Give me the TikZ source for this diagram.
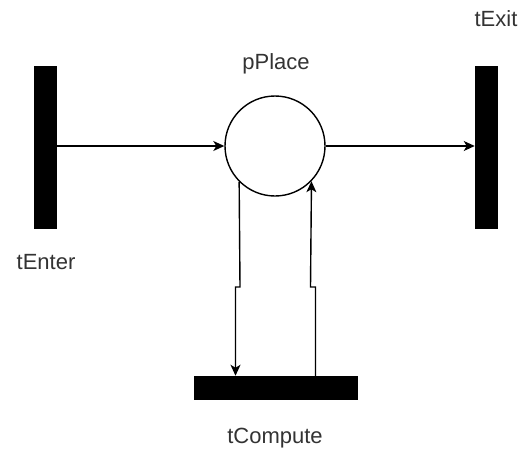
\documentclass[tikz,border=0pt]{standalone}
\usepackage{fontspec}
\setmainfont{Liberation Sans}
\usetikzlibrary{arrows.meta}
\begin{document}
\begin{tikzpicture}[x=1pt,y=-1pt,
  bar/.style={draw=black,fill=black,inner sep=0pt,line width=0.5pt},
  place/.style={circle,draw=black,fill=white,line width=1.4pt,inner sep=0pt,minimum size=100pt},
  lbl/.style={text=black!80,font=\fontsize{22}{24}\selectfont,inner sep=0pt},
  arc/.style={line width=1.4pt,-{Stealth[length=11pt,width=10pt,inset=3pt]}}]
\useasboundingbox (0,0) rectangle (521,453);
\node[bar,minimum width=22pt,minimum height=162pt] (tEnter) at (45,147) {};
\node[bar,minimum width=22pt,minimum height=162pt] (tExit) at (486,147) {};
\node[bar,minimum width=163pt,minimum height=23pt] (tCompute) at (275.5,387.5) {};
\node[place] (pPlace) at (275,146) {};
\node[lbl] (lEnter) at (46,262) {tEnter};
\node[lbl] (lExit) at (496,19) {tExit};
\node[lbl] (lPlace) at (276,64) {pPlace};
\node[lbl] (lCompute) at (275,438) {tCompute};
\coordinate (d1) at (240,287);
\coordinate (d2) at (235.5,287);
\coordinate (u1) at (315.5,287);
\coordinate (u2) at (310.5,287);
\draw[arc] (tEnter.east |- pPlace) -- (pPlace.west);
\draw[arc] (pPlace.east) -- (tExit.west |- pPlace);
\draw[arc] (pPlace.-135.5) -- (d1) -- (d2) -- (d2 |- tCompute.north);
\draw[arc] (u1 |- tCompute.north) -- (u1) -- (u2) -- (pPlace.-44.5);
\end{tikzpicture}
\end{document}
